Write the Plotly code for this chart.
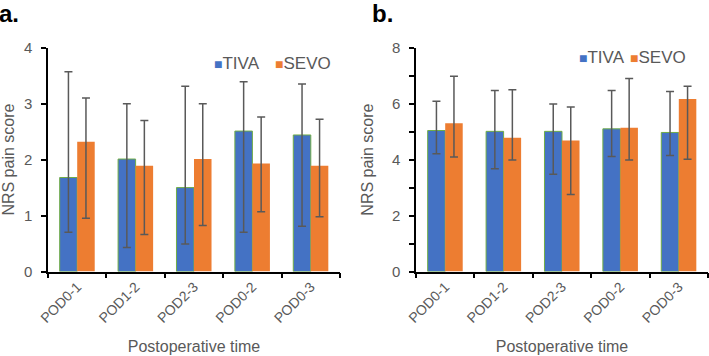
import plotly.graph_objects as go

categories = ["POD0-1", "POD1-2", "POD2-3", "POD0-2", "POD0-3"]
series_names = ["TIVA", "SEVO"]

# Panel a
a_tiva = [1.68, 2.01, 1.50, 2.51, 2.44]
a_tiva_hi = [3.57, 3.00, 3.31, 3.39, 3.35]
a_tiva_lo = [0.70, 0.43, 0.49, 0.70, 0.81]
a_sevo = [2.32, 1.89, 2.01, 1.93, 1.89]
a_sevo_hi = [3.10, 2.70, 3.00, 2.76, 2.72]
a_sevo_lo = [0.95, 0.66, 0.82, 1.07, 0.98]

# Panel b
b_tiva = [5.04, 5.01, 5.01, 5.10, 4.97]
b_tiva_hi = [6.09, 6.47, 5.99, 6.47, 6.43]
b_tiva_lo = [4.21, 3.67, 3.48, 4.11, 4.15]
b_sevo = [5.30, 4.78, 4.68, 5.14, 6.17]
b_sevo_hi = [6.98, 6.50, 5.88, 6.90, 6.62]
b_sevo_lo = [4.09, 3.99, 2.75, 3.99, 4.01]

BLUE = "#4472C4"
ORANGE = "#ED7D31"
ERR = "#595959"
TXT = "#595959"
FONT = "Liberation Sans, Arial, sans-serif"


def err(vals, hi, lo):
    return dict(type="data", symmetric=False,
                array=[h - v for h, v in zip(hi, vals)],
                arrayminus=[v - l for v, l in zip(vals, lo)],
                color=ERR, thickness=1.5, width=4)


fig = go.Figure()
panels = [
    ("x", "y", a_tiva, a_tiva_hi, a_tiva_lo, a_sevo, a_sevo_hi, a_sevo_lo),
    ("x2", "y2", b_tiva, b_tiva_hi, b_tiva_lo, b_sevo, b_sevo_hi, b_sevo_lo),
]
for xa, ya, t, th, tl, s, sh, sl in panels:
    fig.add_trace(go.Bar(x=categories, y=t, name=series_names[0], xaxis=xa, yaxis=ya, showlegend=False,
                         marker=dict(color=BLUE, line=dict(color="#70AD47", width=1)),
                         error_y=err(t, th, tl)))
    fig.add_trace(go.Bar(x=categories, y=s, name=series_names[1], xaxis=xa, yaxis=ya, showlegend=False,
                         marker=dict(color=ORANGE, line=dict(width=0)),
                         error_y=err(s, sh, sl)))

W, H = 709, 356
ybot = (H - 271.5) / H
ytop = (H - 47.7) / H

xcommon = dict(type="category", showline=True, linecolor="black", linewidth=1.5, automargin=False,
               ticks="outside", tickson="boundaries", ticklen=5, tickcolor="black", tickwidth=1.5,
               tickangle=-45, tickfont=dict(size=14, color=TXT, family=FONT),
               showgrid=False, zeroline=False,
               title=dict(text="Postoperative time", font=dict(size=16, color=TXT, family=FONT), standoff=16))
ycommon = dict(showline=True, linecolor="black", linewidth=1.5, ticks="outside", ticklen=5, automargin=False,
               tickcolor="black", tickwidth=1.5, showgrid=False, zeroline=False, ticklabelstandoff=6,
               tickfont=dict(size=15, color=TXT, family=FONT),
               title=dict(text="NRS pain score", font=dict(size=16, color=TXT, family=FONT), standoff=14))


def legend_ann(x, y, color, name):
    return dict(text=f"<span style='color:{color};font-size:14px'>■</span>{name}", x=x / W, y=(H - y) / H,
                xref="paper", yref="paper", xanchor="left", yanchor="middle", showarrow=False,
                font=dict(size=17, color=TXT, family=FONT))


fig.update_layout(
    width=W, height=H, margin=dict(l=0, r=0, t=0, b=0, autoexpand=False),
    paper_bgcolor="white", plot_bgcolor="white",
    barmode="group", bargap=0.4, bargroupgap=0,
    font=dict(family=FONT, color=TXT),
    xaxis=dict(domain=[48 / W, 340 / W], anchor="y", **xcommon),
    yaxis=dict(domain=[ybot, ytop], anchor="x", range=[0, 4], dtick=1, **ycommon),
    xaxis2=dict(domain=[416 / W, 708 / W], anchor="y2", **xcommon),
    yaxis2=dict(domain=[ybot, ytop], anchor="x2", range=[0, 8], dtick=2,
                minor=dict(ticks="outside", dtick=1, ticklen=5, tickcolor="black", tickwidth=1.5),
                **ycommon),
    annotations=[
        dict(text="<b>a.</b>", x=0, y=1, xref="paper", yref="paper", xanchor="left", yanchor="top",
             showarrow=False, font=dict(size=24, color="black", family=FONT), xshift=-3, yshift=2),
        dict(text="<b>b.</b>", x=370 / W, y=1, xref="paper", yref="paper", xanchor="left", yanchor="top",
             showarrow=False, font=dict(size=24, color="black", family=FONT), yshift=2),
        legend_ann(212, 63, BLUE, series_names[0]),
        legend_ann(273, 63, ORANGE, series_names[1]),
        legend_ann(577, 58, BLUE, series_names[0]),
        legend_ann(628, 58, ORANGE, series_names[1]),
    ],
)

fig.write_html("out.html", config={"displayModeBar": False},
               post_script="document.body.style.margin='0';document.body.style.overflow='hidden';")
